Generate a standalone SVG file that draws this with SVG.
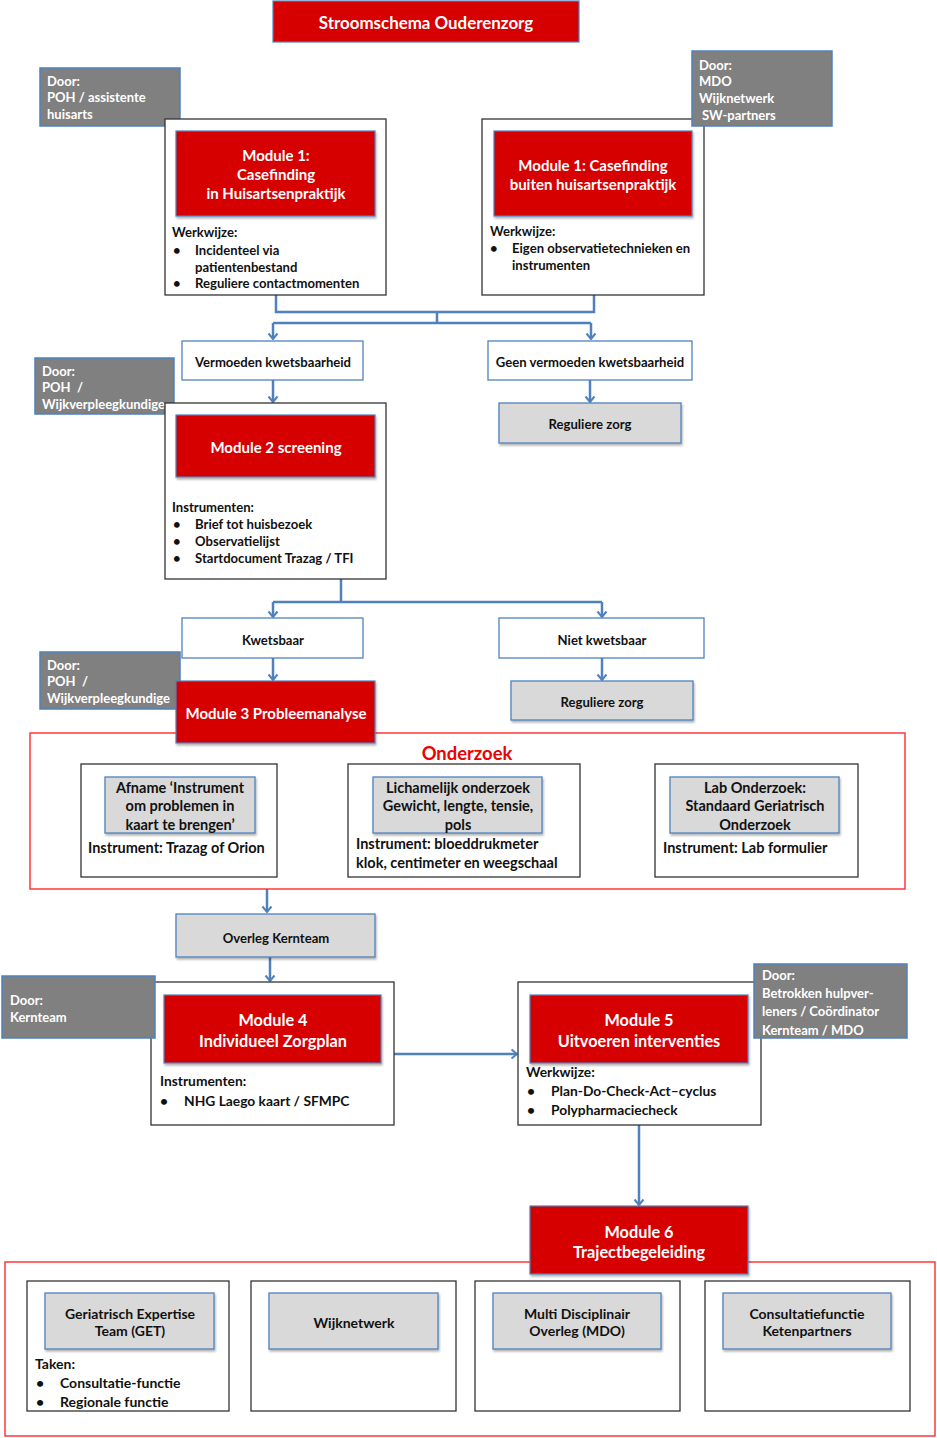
<svg xmlns="http://www.w3.org/2000/svg" width="937" height="1438" viewBox="0 0 937 1438">
<defs>
<filter id="sh" x="-10%" y="-10%" width="130%" height="140%">
<feDropShadow dx="1" dy="2" stdDeviation="1.2" flood-color="#000" flood-opacity="0.3"/>
</filter>
<marker id="arr" viewBox="-7 -6 8 12" refX="0" refY="0" markerWidth="8" markerHeight="12" markerUnits="userSpaceOnUse" orient="auto">
<path d="M-5.5,-4.5 L0,0 L-5.5,4.5" fill="none" stroke="#4f81bd" stroke-width="2"/>
</marker>
</defs>
<style>
text{font-family:Lato,"Liberation Sans",Arial,sans-serif;font-weight:bold;}
.red{fill:#d70000;stroke:#4f81bd;stroke-width:1.2;filter:url(#sh);}
.rt{fill:#fff;text-anchor:middle;font-size:15px;}
.rt15{fill:#fff;text-anchor:middle;font-size:16.3px;}
.door{fill:#808080;stroke:#4f81bd;stroke-width:1.5;}
.dt{fill:#fff;font-size:13px;}
.outer{fill:#fff;stroke:#333;stroke-width:1.3;}
.wbox{fill:#fff;stroke:#4f81bd;stroke-width:1.3;}
.gbox{fill:#d9d9d9;stroke:#4f81bd;stroke-width:1.3;filter:url(#sh);}
.t{fill:#111;font-size:13.1px;}
.tc{fill:#111;font-size:13.1px;text-anchor:middle;}
.t13{fill:#111;font-size:13.8px;}
.tb{fill:#111;font-size:14px;}
.tcb{fill:#111;font-size:14px;text-anchor:middle;}
.to{fill:#111;font-size:14.5px;}
.tco{fill:#111;font-size:14.5px;text-anchor:middle;}
.frame{fill:none;stroke:#ff2a2a;stroke-width:1.4;}
.con{fill:none;stroke:#4f81bd;stroke-width:2.5;}
.ca{fill:none;stroke:#4f81bd;stroke-width:2.5;marker-end:url(#arr);}
</style>

<g id="title">
<rect x="273" y="1" width="306" height="41" fill="#d70000" stroke="#4f81bd" stroke-width="1.2"/>
<text x="426" y="29" fill="#fff" text-anchor="middle" font-size="16.9">Stroomschema Ouderenzorg</text>
</g>

<g id="connectors">
<path class="con" d="M276,295 V312 H594 V295"/>
<path class="con" d="M437,312 V323 M273,323 H591"/>
<path class="ca" d="M273,323 V339"/>
<path class="ca" d="M591,323 V339"/>
<path class="ca" d="M273,380 V402"/>
<path class="ca" d="M590,380 V402"/>
<path class="con" d="M341,579 V602 M273,602 H602"/>
<path class="ca" d="M273,602 V617"/>
<path class="ca" d="M602,602 V617"/>
<path class="ca" d="M273,658 V680"/>
<path class="ca" d="M602,658 V680"/>
<path class="ca" d="M267,889 V912"/>
<path class="ca" d="M270,957 V981"/>
<path class="ca" d="M394,1054 H517"/>
<path class="ca" d="M639,1125 V1205"/>
</g>

<g id="door1">
<rect class="door" x="40" y="68" width="140" height="58"/>
<text class="dt" x="47" y="86">Door:</text>
<text class="dt" x="47" y="102">POH / assistente</text>
<text class="dt" x="47" y="119">huisarts</text>
</g>

<g id="module1a">
<rect class="outer" x="165" y="119" width="221" height="176"/>
<rect class="red" x="176" y="131" width="199" height="85"/>
<text class="rt" x="276" y="161">Module 1:</text>
<text class="rt" x="276" y="180">Casefinding</text>
<text class="rt" x="276" y="199">in Huisartsenpraktijk</text>
<text class="t" x="172" y="237">Werkwijze:</text>
<text class="t" x="173" y="254.5">•</text>
<text class="t" x="195" y="254.5">Incidenteel via</text>
<text class="t" x="195" y="271.5">patientenbestand</text>
<text class="t" x="173" y="287.5">•</text>
<text class="t" x="195" y="287.5">Reguliere contactmomenten</text>
</g>

<g id="module1b">
<rect class="outer" x="482" y="119" width="222" height="176"/>
<rect class="red" x="494" y="131" width="198" height="85"/>
<text class="rt" x="593" y="171">Module 1: Casefinding</text>
<text class="rt" x="593" y="190">buiten huisartsenpraktijk</text>
<text class="t" x="490" y="235.5">Werkwijze:</text>
<text class="t" x="490" y="252.5">•</text>
<text class="t" x="512" y="252.5">Eigen observatietechnieken en</text>
<text class="t" x="512" y="269.5">instrumenten</text>
</g>

<g id="door2">
<rect class="door" x="692" y="51" width="140" height="75"/>
<text class="dt" x="699" y="70">Door:</text>
<text class="dt" x="699" y="86">MDO</text>
<text class="dt" x="699" y="103">Wijknetwerk</text>
<text class="dt" x="702" y="120">SW-partners</text>
</g>

<g id="vermoeden">
<rect class="wbox" x="182" y="341" width="181" height="39"/>
<text class="tc" x="273" y="366.5">Vermoeden kwetsbaarheid</text>
</g>

<g id="geen-vermoeden">
<rect class="wbox" x="488" y="341" width="204" height="39"/>
<text class="tc" x="590" y="366.5">Geen vermoeden kwetsbaarheid</text>
</g>

<g id="reguliere1">
<rect class="gbox" x="499" y="403" width="182" height="40"/>
<text class="tc" x="590" y="429">Reguliere zorg</text>
</g>

<g id="door3">
<rect class="door" x="35" y="358" width="139" height="56"/>
<text class="dt" x="42" y="376">Door:</text>
<text class="dt" x="42" y="392" xml:space="preserve">POH  /</text>
<text class="dt" x="42" y="409">Wijkverpleegkundige</text>
</g>

<g id="module2">
<rect class="outer" x="165" y="403" width="221" height="176"/>
<rect class="red" x="176" y="415" width="199" height="62"/>
<text class="rt" x="276" y="453">Module 2 screening</text>
<text class="t" x="172" y="512">Instrumenten:</text>
<text class="t" x="173" y="528.5">•</text>
<text class="t" x="195" y="528.5">Brief tot huisbezoek</text>
<text class="t" x="173" y="546">•</text>
<text class="t" x="195" y="546">Observatielijst</text>
<text class="t" x="173" y="563">•</text>
<text class="t" x="195" y="563">Startdocument Trazag / TFI</text>
</g>

<g id="kwetsbaar">
<rect class="wbox" x="182" y="618" width="181" height="40"/>
<text class="tc" x="273" y="644.5">Kwetsbaar</text>
</g>

<g id="niet-kwetsbaar">
<rect class="wbox" x="499" y="618" width="205" height="40"/>
<text class="tc" x="602" y="644.5">Niet kwetsbaar</text>
</g>

<g id="reguliere2">
<rect class="gbox" x="511" y="681" width="182" height="39"/>
<text class="tc" x="602" y="707">Reguliere zorg</text>
</g>

<g id="onderzoek">
<rect class="frame" x="30" y="733" width="875" height="156"/>
<text x="467" y="760" fill="#ee0000" text-anchor="middle" font-size="18.4">Onderzoek</text>
<g id="onderzoek1">
<rect class="outer" x="81" y="764" width="196" height="113"/>
<rect class="gbox" x="105" y="777" width="150" height="56"/>
<text class="tco" x="180" y="793">Afname ‘Instrument</text>
<text class="tco" x="180" y="811">om problemen in</text>
<text class="tco" x="180" y="829.5">kaart te brengen’</text>
<text class="to" x="88" y="853">Instrument: Trazag of Orion</text>
</g>
<g id="onderzoek2">
<rect class="outer" x="348" y="764" width="232" height="113"/>
<rect class="gbox" x="373" y="777" width="169" height="56"/>
<text class="tco" x="458" y="793">Lichamelijk onderzoek</text>
<text class="tco" x="458" y="811">Gewicht, lengte, tensie,</text>
<text class="tco" x="458" y="829.5">pols</text>
<text class="to" x="356" y="849">Instrument: bloeddrukmeter</text>
<text class="to" x="356" y="867.5">klok, centimeter en weegschaal</text>
</g>
<g id="onderzoek3">
<rect class="outer" x="655" y="764" width="203" height="113"/>
<rect class="gbox" x="670" y="777" width="169" height="56"/>
<text class="tco" x="755" y="793">Lab Onderzoek:</text>
<text class="tco" x="755" y="811">Standaard Geriatrisch</text>
<text class="tco" x="755" y="829.5">Onderzoek</text>
<text class="to" x="663" y="853">Instrument: Lab formulier</text>
</g>
</g>

<g id="door4">
<rect class="door" x="40" y="652" width="140" height="57"/>
<text class="dt" x="47" y="670">Door:</text>
<text class="dt" x="47" y="686" xml:space="preserve">POH  /</text>
<text class="dt" x="47" y="703">Wijkverpleegkundige</text>
</g>

<g id="module3">
<rect class="red" x="176" y="681" width="199" height="62"/>
<text class="rt" x="276" y="719">Module 3 Probleemanalyse</text>
</g>

<g id="overleg">
<rect class="gbox" x="176" y="914" width="199" height="43"/>
<text class="tc" x="276" y="942.5">Overleg Kernteam</text>
</g>

<g id="module4">
<rect class="outer" x="151" y="982" width="243" height="143"/>
<rect class="red" x="164" y="995" width="217" height="68"/>
<text class="rt15" x="273" y="1025.5">Module 4</text>
<text class="rt15" x="273" y="1047">Individueel Zorgplan</text>
<text class="t13" x="160" y="1086">Instrumenten:</text>
<text class="t13" x="160" y="1105.5">•</text>
<text class="t13" x="184" y="1105.5">NHG Laego kaart / SFMPC</text>
</g>

<g id="door-kernteam">
<rect class="door" x="2" y="976" width="153" height="62"/>
<text class="dt" x="10" y="1004.5">Door:</text>
<text class="dt" x="10" y="1022">Kernteam</text>
</g>

<g id="module5">
<rect class="outer" x="518" y="982" width="243" height="143"/>
<rect class="red" x="530" y="995" width="218" height="68"/>
<text class="rt15" x="639" y="1025.5">Module 5</text>
<text class="rt15" x="639" y="1047">Uitvoeren interventies</text>
<text class="t13" x="526" y="1077">Werkwijze:</text>
<text class="t13" x="527" y="1095.5">•</text>
<text class="t13" x="551" y="1095.5">Plan-Do-Check-Act–cyclus</text>
<text class="t13" x="527" y="1114.5">•</text>
<text class="t13" x="551" y="1114.5">Polypharmaciecheck</text>
</g>

<g id="door5">
<rect class="door" x="754" y="964" width="153" height="74"/>
<text class="dt" x="762" y="980">Door:</text>
<text class="dt" x="762" y="998">Betrokken hulpver-</text>
<text class="dt" x="762" y="1016">leners / Coördinator</text>
<text class="dt" x="762" y="1034.5">Kernteam / MDO</text>
</g>

<g id="traject">
<rect class="frame" x="5" y="1262" width="930" height="174"/>
<g id="get">
<rect class="outer" x="27" y="1281" width="202" height="130"/>
<rect class="gbox" x="45" y="1293" width="169" height="56"/>
<text class="tcb" x="130" y="1319">Geriatrisch Expertise</text>
<text class="tcb" x="130" y="1336">Team (GET)</text>
<text class="tb" x="35" y="1369">Taken:</text>
<text class="tb" x="36" y="1388">•</text>
<text class="tb" x="60" y="1388">Consultatie-functie</text>
<text class="tb" x="36" y="1406.5">•</text>
<text class="tb" x="60" y="1406.5">Regionale functie</text>
</g>
<g id="wijknetwerk">
<rect class="outer" x="251" y="1281" width="205" height="130"/>
<rect class="gbox" x="269" y="1293" width="169" height="56"/>
<text class="tcb" x="354" y="1328">Wijknetwerk</text>
</g>
<g id="mdo">
<rect class="outer" x="475" y="1281" width="205" height="130"/>
<rect class="gbox" x="493" y="1293" width="168" height="56"/>
<text class="tcb" x="577" y="1319">Multi Disciplinair</text>
<text class="tcb" x="577" y="1336">Overleg (MDO)</text>
</g>
<g id="ketenpartners">
<rect class="outer" x="705" y="1281" width="205" height="130"/>
<rect class="gbox" x="723" y="1293" width="168" height="56"/>
<text class="tcb" x="807" y="1319">Consultatiefunctie</text>
<text class="tcb" x="807" y="1336">Ketenpartners</text>
</g>
</g>

<g id="module6">
<rect class="red" x="530" y="1206" width="218" height="68"/>
<text class="rt15" x="639" y="1238">Module 6</text>
<text class="rt15" x="639" y="1258">Trajectbegeleiding</text>
</g>
</svg>
